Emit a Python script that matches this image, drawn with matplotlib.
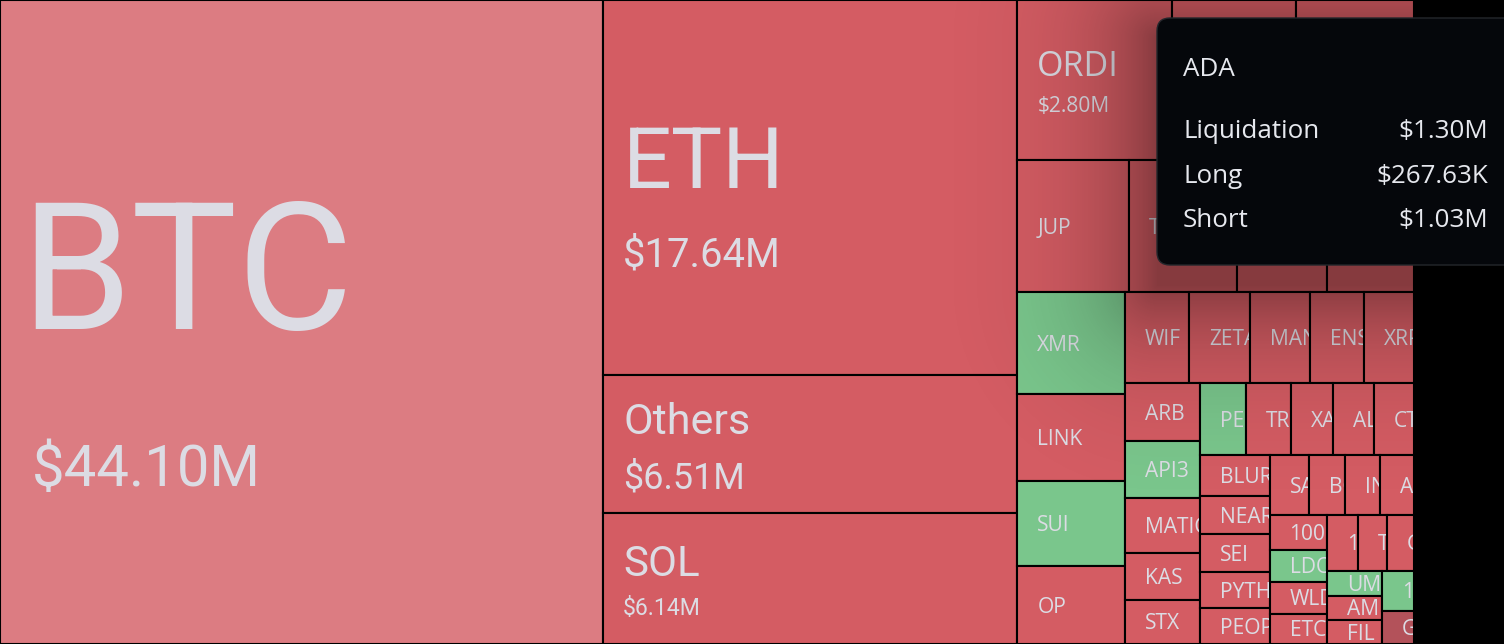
import numpy as np
import matplotlib.pyplot as plt
from matplotlib.patches import Rectangle, FancyBboxPatch
from matplotlib.transforms import Bbox

# liquidation totals per coin, $M (sorted, as in the source treemap)
names = ['BTC', 'ETH', 'Others', 'SOL', 'ORDI', 'DOGE', 'BNB', 'JUP', 'TON', 'NOT', 'ADA',
         'XMR', 'LINK', 'SUI', 'OP', 'WIF', 'ZETA', 'MANTA', 'ENS', 'XRP',
         'ARB', 'API3', 'MATIC', 'KAS', 'STX', 'PEPE', 'TRB', 'XAI', 'ALT', 'CTSI',
         'BLUR', 'NEAR', 'SEI', 'PYTH', 'PEOPLE', 'SAGA', 'BOME', 'INJ', 'AVAX',
         '1000SATS', 'LDO', 'WLD', 'ETC', '1000BONK', 'TIA', 'GALA', 'UMA', 'AMB', 'FIL',
         '1000FLOKI', 'GMT']
liq = [44.10, 17.64, 6.51, 6.14, 2.80, 2.25, 2.15, 1.68, 1.62, 1.36, 1.30,
       1.25, 1.06, 1.04, 0.95, 0.66, 0.63, 0.62, 0.555, 0.515,
       0.50, 0.49, 0.47, 0.40, 0.38, 0.375, 0.37, 0.345, 0.34, 0.33,
       0.32, 0.30, 0.295, 0.285, 0.28, 0.265, 0.245, 0.24, 0.23,
       0.225, 0.215, 0.205, 0.20, 0.19, 0.185, 0.17, 0.155, 0.152, 0.148,
       0.147, 0.12]
short_heavy = ['XMR', 'SUI', 'API3', 'PEPE', 'LDO', 'UMA', '1000FLOKI']

tip_name = 'ADA'
tip_rows = ['Liquidation', 'Long', 'Short']
tip_vals = ['$1.30M', '$267.63K', '$1.03M']

W, H = 1504, 644
MAP_W = 1414
RED, GREEN = '#d45c63', '#7ac68c'
special_color = {'BTC': '#dc7c82', 'GMT': '#b3525a'}
TXT = '#dcdce4'

# label styles: name px, value px, gap px, font, value x-offset, vertical shift
big_labels = {'BTC': (178, 58, 116, 'Roboto', 12, 22),
              'ETH': (86, 40, 50, 'Roboto', 0, 9),
              'Others': (43, 36, 29, 'Roboto', 0, 2),
              'SOL': (42, 23, 22, 'Roboto', 0, 2),
              'ORDI': (34, 21, 22, 'Open Sans', 0, 2)}
SMALL_PX = 21
PT = 0.72  # px -> pt at dpi 100


def squarify(values, x, y, w, h, ratio=(1 + 5 ** 0.5) / 2):
    # echarts-style squarified treemap
    scale = w * h / sum(values)
    areas = [v * scale for v in values]
    out = [None] * len(values)
    rect = [x, y, w, h]

    def worst(row, fixed):
        s = sum(areas[j] for j in row)
        f = fixed * fixed * ratio
        amax = max(areas[j] for j in row)
        amin = min(areas[j] for j in row)
        return max(f * amax / s ** 2, s ** 2 / (f * amin))

    def place(row, fixed, flush):
        horiz = fixed == rect[2]
        s = sum(areas[j] for j in row)
        other = s / fixed
        side = rect[3] if horiz else rect[2]
        if flush or other > side:
            other = side
        pos = rect[0] if horiz else rect[1]
        end = pos + fixed
        for k, j in enumerate(row):
            step = areas[j] / other
            if k == len(row) - 1 or end - pos < step:
                step = end - pos
            if horiz:
                out[j] = (pos, rect[1], step, other)
            else:
                out[j] = (rect[0], pos, other, step)
            pos += step
        if horiz:
            rect[1] += other
            rect[3] -= other
        else:
            rect[0] += other
            rect[2] -= other

    fixed = min(w, h)
    row, best, i = [], np.inf, 0
    while i < len(values):
        row.append(i)
        score = worst(row, fixed)
        if score <= best:
            best = score
            i += 1
        else:
            row.pop()
            place(row, fixed, False)
            fixed = min(rect[2], rect[3])
            row, best = [], np.inf
    if row:
        place(row, fixed, True)
    return out


fig = plt.figure(figsize=(W / 100, H / 100), dpi=100, facecolor='black')
ax = fig.add_axes([0, 0, 1, 1])
ax.set_xlim(0, W)
ax.set_ylim(H, 0)
ax.axis('off')
ax.set_facecolor('black')


def clip_to(t, x, y, w, h):
    # axes fills the figure and 1 data unit = 1 pixel
    t.set_clip_path(None)
    t.set_clip_box(Bbox.from_extents(x + 1, H - (y + h) + 1, x + w - 1, H - y - 1))
    t.set_clip_on(True)


rects = squarify(liq, 0, 0, MAP_W, H)
for name, val, (x, y, w, h) in zip(names, liq, rects):
    color = special_color.get(name, GREEN if name in short_heavy else RED)
    ax.add_patch(Rectangle((x, y), w, h, facecolor=color, edgecolor='black',
                           linewidth=1.5, zorder=1))
    cy = y + h / 2
    if name in big_labels:
        npx, vpx, gap, font, vdx, shift = big_labels[name]
        block = 0.71 * npx + gap + 0.71 * vpx
        mid = cy + shift
        t1 = ax.text(x + 20, mid - block / 2 + 0.71 * npx, name, fontsize=npx * PT,
                     family=font, color=TXT, va='baseline', ha='left', zorder=2)
        t2 = ax.text(x + 20 + vdx, mid + block / 2, f'${val:.2f}M', fontsize=vpx * PT,
                     family=font, color=TXT, va='baseline', ha='left', zorder=2)
        clip_to(t1, x, y, w, h)
        clip_to(t2, x, y, w, h)
    else:
        t = ax.text(x + 20, cy + 0.36 * SMALL_PX, name, fontsize=SMALL_PX * PT,
                    family='Open Sans', color=TXT, va='baseline', ha='left', zorder=2)
        clip_to(t, x, y, w, h)

# tooltip and its soft shadow
tx0, ty0, tx1, ty1 = 1157, 18, 1540, 265
gx = np.arange(600, W)
gy = np.arange(0, H)
GX, GY = np.meshgrid(gx, gy)
dx = np.maximum(np.maximum(tx0 - GX, GX - tx1), 0)
dy = np.maximum(np.maximum(ty0 + 20 - GY, GY - (ty1 + 20)), 0)
d = np.hypot(dx, dy)
shade = np.zeros((len(gy), len(gx), 4))
shade[..., 3] = np.clip(0.38 * np.exp(-d / 68) - 0.015, 0, 1)
ax.imshow(shade, extent=(600, W, H, 0), zorder=3, interpolation='bilinear', aspect='auto')
ax.set_xlim(0, W)
ax.set_ylim(H, 0)

ax.add_patch(Rectangle((MAP_W, 0), W - MAP_W, H, facecolor='black', edgecolor='none', zorder=4))
ax.add_patch(FancyBboxPatch((tx0, ty0), tx1 - tx0, ty1 - ty0,
                            boxstyle='round,pad=0,rounding_size=13',
                            facecolor='#05070b', edgecolor='#24272c', linewidth=1, zorder=5))

ax.text(1183, 76, tip_name, fontsize=26 * PT, family='Open Sans', color='#e6e8ee',
        va='baseline', ha='left', zorder=6)
for k, (lab, v) in enumerate(zip(tip_rows, tip_vals)):
    yb = 138 + 44.5 * k
    ax.text(1183, yb, lab, fontsize=26 * PT, family='Open Sans', color='#e6e8ee',
            va='baseline', ha='left', zorder=6)
    ax.text(1488, yb, v, fontsize=26 * PT, family='Open Sans', color='#e6e8ee',
            va='baseline', ha='right', zorder=6)

fig.savefig('out.png', dpi=100, facecolor='black')
